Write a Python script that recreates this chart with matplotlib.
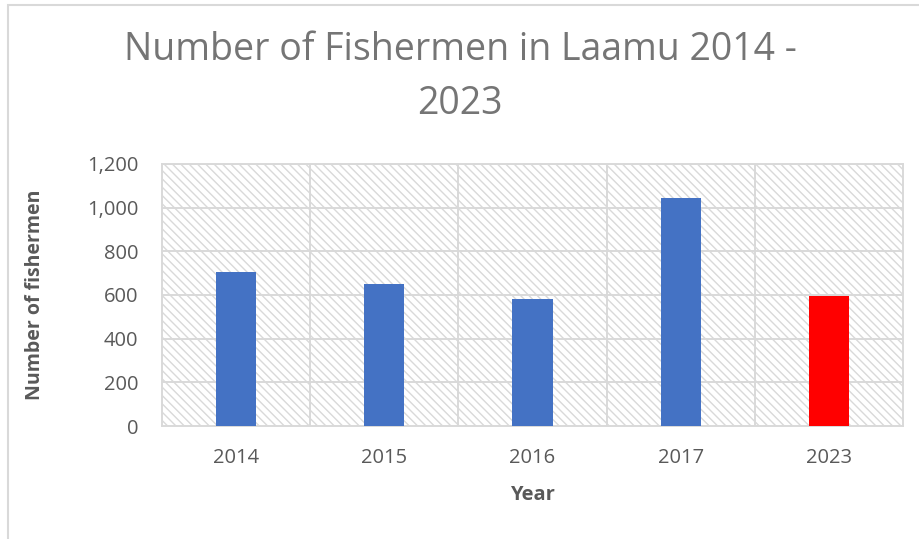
import matplotlib.pyplot as plt
from matplotlib.patches import Rectangle

# data
years = ["2014", "2015", "2016", "2017", "2023"]
fishermen = [705, 652, 580, 1043, 597]
bar_colors = ["#4472C4", "#4472C4", "#4472C4", "#4472C4", "#FF0000"]

plt.rcParams['font.family'] = ['Open Sans', 'DejaVu Sans']
plt.rcParams['hatch.color'] = '#d9d9d9'
plt.rcParams['hatch.linewidth'] = 1.0

fig = plt.figure(figsize=(9.2, 5.39), dpi=100)
ax = fig.add_axes([162 / 920, 1 - 426 / 539, 741 / 920, 262 / 539])

# outer chart border (only top and left visible in the crop)
fig.patches.append(Rectangle((8 / 920, -0.1), 1.2, 1 - 5 / 539 + 0.1,
                             transform=fig.transFigure, fill=False,
                             edgecolor='#d9d9d9', linewidth=1.5))

# hatched plot area
ax.add_patch(Rectangle((0, 0), 1, 1, transform=ax.transAxes, facecolor='white',
                       hatch='\\\\\\\\', edgecolor='#d9d9d9', linewidth=0, zorder=0))

x = range(len(years))
ax.bar(x, fishermen, width=0.27, color=bar_colors, zorder=3)

ax.set_xlim(-0.5, len(years) - 0.5)
ax.set_ylim(0, 1200)
ax.set_yticks(range(0, 1201, 200))
ax.set_yticklabels([f"{v:,}" for v in range(0, 1201, 200)])
ax.set_xticks(list(x))
ax.set_xticklabels(years)

# gridlines: horizontal at ticks, vertical at category boundaries
for v in range(200, 1201, 200):
    ax.axhline(v, color='#d9d9d9', linewidth=1.4, zorder=1)
for b in [0.5, 1.5, 2.5, 3.5]:
    ax.axvline(b, color='#d9d9d9', linewidth=1.4, zorder=1)

for s in ax.spines.values():
    s.set_color('#d9d9d9')
    s.set_linewidth(1.4)

ax.tick_params(length=0, labelsize=14.5, colors='#595959')
ax.tick_params(axis='y', pad=17)
ax.tick_params(axis='x', pad=16)

ax.set_xlabel("Year", fontsize=14.5, fontweight='bold', color='#595959', labelpad=12)
ax.set_ylabel("Number of fishermen", fontsize=14, fontweight='bold', color='#595959', labelpad=30)

fig.text(0.5, 1 - 60 / 539, "Number of Fishermen in Laamu 2014 -", ha='center', va='baseline',
         fontsize=27, color='#757575')
fig.text(0.5, 1 - 114 / 539, "2023", ha='center', va='baseline', fontsize=27, color='#757575')

fig.savefig("out.png", dpi=100)
